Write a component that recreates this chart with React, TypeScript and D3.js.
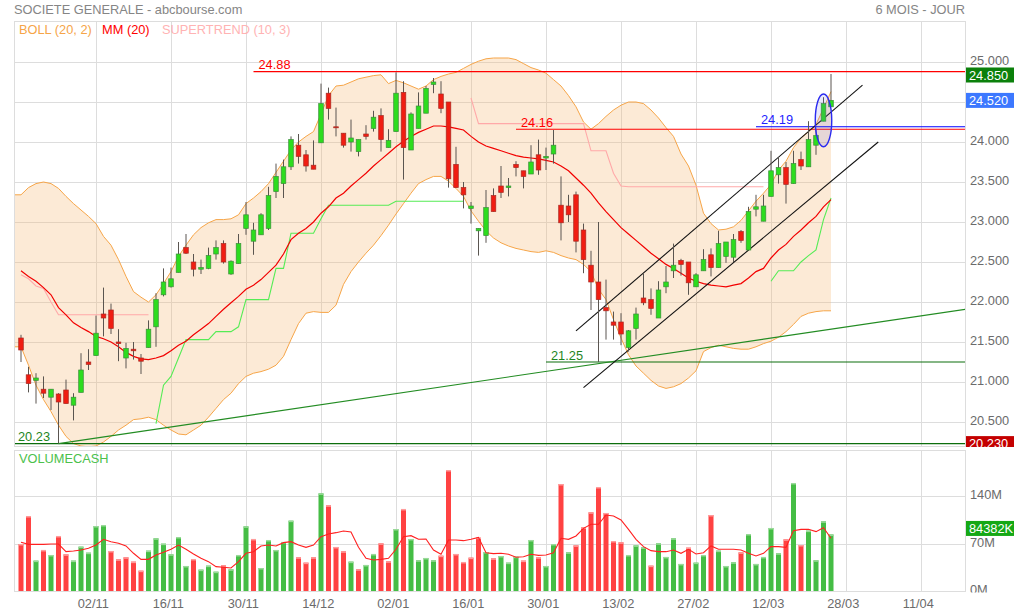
import React, { useEffect, useRef } from 'react';
import * as d3 from 'd3';

// daily candles, oldest first (6 months)
const opens = [
  21.55, 21.09, 21.02, 20.91, 20.81, 20.85, 20.90, 20.71, 20.87, 21.25,
  21.33, 21.85, 21.90, 21.50, 21.30, 21.41, 21.30, 21.43, 21.69, 22.09,
  22.19, 22.37, 22.68, 22.50, 22.41, 22.42, 22.60, 22.73, 22.35, 22.48,
  22.92, 22.76, 22.84, 22.92, 23.38, 23.48, 23.69, 23.96, 23.84, 23.71,
  23.99, 24.61, 24.19, 24.11, 24.00, 23.88, 24.10, 24.17, 24.33, 23.93,
  24.13, 24.62, 23.90, 24.17, 24.36, 24.72, 24.60, 24.50, 23.72, 23.43,
  23.17, 22.89, 22.83, 23.33, 23.45, 23.43, 23.72, 23.64, 23.60, 23.84,
  23.80, 23.85, 23.21, 23.20, 23.34, 22.90, 22.46, 22.25, 21.93, 21.75,
  21.75, 21.43, 21.67, 22.05, 22.03, 21.80, 22.19, 22.39, 22.52, 22.50,
  22.19, 22.39, 22.59, 22.43, 22.57, 22.56, 22.88, 22.65, 23.16, 23.01,
  23.32, 23.59, 23.68, 23.48, 23.78, 23.69, 23.96, 24.26, 24.44,
];
const highs = [
  21.59, 21.19, 21.11, 21.07, 20.91, 20.86, 21.03, 20.86, 21.36, 21.41,
  21.83, 22.18, 21.98, 21.66, 21.49, 21.50, 21.35, 21.77, 22.11, 22.42,
  22.43, 22.75, 22.85, 22.60, 22.53, 22.68, 22.77, 22.77, 22.52, 22.85,
  23.25, 22.99, 23.11, 23.44, 23.73, 23.78, 24.07, 24.10, 23.90, 24.02,
  24.73, 24.68, 24.43, 24.11, 24.28, 24.03, 24.21, 24.39, 24.42, 24.16,
  24.87, 24.76, 24.37, 24.62, 24.70, 24.80, 24.76, 24.50, 23.94, 23.50,
  23.25, 22.92, 23.40, 23.42, 23.70, 23.55, 23.76, 23.64, 23.96, 24.03,
  23.93, 24.15, 23.57, 23.34, 23.38, 22.98, 22.64, 23.00, 22.28, 21.88,
  21.86, 21.65, 21.93, 22.36, 22.17, 22.26, 22.45, 22.73, 22.54, 22.50,
  22.36, 22.66, 22.67, 22.89, 22.75, 22.85, 22.90, 23.19, 23.34, 23.34,
  23.89, 23.81, 23.75, 23.89, 23.88, 24.26, 24.15, 24.56, 24.85,
];
const lows = [
  21.25, 20.87, 20.73, 20.80, 20.65, 20.23, 20.73, 20.52, 20.87, 21.15,
  21.33, 21.57, 21.60, 21.26, 21.17, 21.28, 21.10, 21.43, 21.44, 22.07,
  22.18, 22.37, 22.60, 22.32, 22.35, 22.41, 22.53, 22.48, 22.34, 22.48,
  22.84, 22.59, 22.84, 22.90, 23.30, 23.30, 23.65, 23.73, 23.63, 23.66,
  23.99, 24.28, 24.07, 23.93, 23.88, 23.82, 24.03, 24.13, 23.88, 23.93,
  24.13, 23.53, 23.90, 24.17, 24.36, 24.61, 24.36, 23.43, 23.43, 23.17,
  22.98, 22.58, 22.74, 23.13, 23.30, 23.32, 23.57, 23.42, 23.60, 23.59,
  23.65, 23.73, 22.77, 23.00, 22.62, 22.36, 21.90, 21.25, 21.53, 21.53,
  21.46, 21.38, 21.53, 21.96, 21.84, 21.80, 22.11, 22.30, 22.33, 22.09,
  22.19, 22.39, 22.32, 22.43, 22.49, 22.50, 22.74, 22.65, 23.07, 23.01,
  23.32, 23.48, 23.23, 23.48, 23.65, 23.69, 23.84, 24.26, 24.44,
];
const closes = [
  21.40, 20.98, 21.05, 20.86, 20.91, 20.75, 20.73, 20.81, 21.15, 21.22,
  21.61, 21.80, 21.67, 21.48, 21.42, 21.39, 21.26, 21.66, 22.03, 22.25,
  22.29, 22.60, 22.61, 22.41, 22.43, 22.58, 22.68, 22.50, 22.51, 22.73,
  23.09, 22.90, 23.09, 23.33, 23.57, 23.69, 24.03, 23.82, 23.70, 23.66,
  24.48, 24.42, 24.18, 23.96, 24.05, 24.03, 24.07, 24.31, 24.03, 24.02,
  24.61, 23.93, 24.35, 24.45, 24.67, 24.75, 24.42, 23.54, 23.43, 23.34,
  23.20, 22.92, 23.18, 23.13, 23.37, 23.45, 23.68, 23.57, 23.75, 23.65,
  23.82, 23.96, 22.99, 23.09, 22.76, 22.53, 22.25, 22.03, 21.89, 21.71,
  21.60, 21.64, 21.85, 21.99, 21.92, 22.15, 22.25, 22.46, 22.47, 22.24,
  22.34, 22.53, 22.43, 22.73, 22.75, 22.78, 22.77, 23.13, 23.19, 23.20,
  23.64, 23.68, 23.47, 23.73, 23.70, 24.03, 24.08, 24.48, 24.52,
];
// volume in millions of euros
const volumes = [
  70.3, 111.5, 45.8, 61.5, 54.1, 82.1, 55.1, 45.8, 66.4, 57.5,
  96.8, 98.3, 60.0, 47.7, 50.7, 44.3, 31.0, 60.5, 78.7, 70.8,
  55.1, 80.6, 37.9, 48.2, 32.5, 38.4, 29.5, 38.9, 33.0, 54.1,
  96.3, 77.7, 34.9, 76.2, 61.5, 73.3, 104.7, 50.7, 42.8, 50.7,
  144.9, 127.3, 65.9, 59.5, 44.3, 33.0, 39.4, 55.6, 71.3, 44.8,
  92.4, 121.9, 77.7, 46.3, 49.7, 46.3, 53.1, 179.3, 55.6, 43.8,
  50.2, 79.6, 58.5, 49.2, 52.6, 42.8, 51.6, 45.8, 76.2, 50.7,
  37.9, 70.3, 158.7, 58.0, 68.3, 94.9, 117.0, 154.3, 116.0, 74.7,
  72.8, 54.1, 68.3, 65.4, 38.4, 71.3, 51.2, 78.7, 40.9, 64.9,
  42.8, 54.1, 113.0, 60.5, 37.9, 43.3, 58.0, 85.0, 40.9, 51.2,
  93.9, 56.6, 77.2, 160.2, 68.8, 90.0, 46.3, 103.7, 84.4,
];
const volAvg = [
  72.8, 69.8, 69.8, 69.8, 70.3, 70.3, 59.0, 60.0, 61.5, 63.9,
  68.8, 77.2, 73.7, 71.3, 67.4, 56.6, 47.7, 47.7, 54.1, 58.0,
  62.5, 68.8, 62.5, 55.6, 49.2, 44.3, 36.9, 36.0, 35.0, 44.3,
  56.6, 59.0, 67.4, 68.8, 67.4, 72.3, 73.7, 68.8, 65.4, 68.8,
  81.1, 85.0, 87.0, 89.5, 88.0, 65.4, 49.2, 46.7, 47.7, 49.2,
  62.5, 81.1, 82.6, 77.2, 77.7, 61.5, 55.1, 76.2, 76.2, 75.2,
  77.2, 80.1, 57.5, 56.1, 56.6, 55.1, 50.7, 51.6, 55.1, 53.6,
  54.1, 57.5, 78.7, 77.2, 82.1, 93.4, 99.3, 99.3, 113.0, 111.5,
  105.7, 91.9, 77.2, 66.4, 60.5, 59.0, 59.0, 61.5, 56.6, 62.5,
  55.6, 57.5, 67.4, 62.5, 62.5, 62.5, 61.5, 56.6, 52.6, 56.6,
  66.4, 66.4, 65.4, 90.0, 91.9, 91.9, 88.5, 94.4, 78.7,
];
const bollUp = [
  23.34, 23.43, 23.48, 23.50, 23.48, 23.42, 23.32, 23.23, 23.15, 23.07,
  22.98, 22.82, 22.71, 22.53, 22.32, 22.13, 22.06, 22.00, 22.09, 22.23,
  22.38, 22.57, 22.71, 22.84, 22.93, 22.99, 23.03, 23.03, 23.04, 23.09,
  23.23, 23.30, 23.38, 23.48, 23.62, 23.76, 23.90, 24.00, 24.07, 24.13,
  24.35, 24.58, 24.70, 24.71, 24.75, 24.79, 24.81, 24.83, 24.84, 24.73,
  24.77, 24.74, 24.70, 24.66, 24.70, 24.78, 24.82, 24.85, 24.87, 24.92,
  24.97, 25.01, 25.04, 25.05, 25.05, 25.05, 25.03, 24.98, 24.93, 24.90,
  24.86, 24.78, 24.70, 24.58, 24.44, 24.25, 24.16, 24.23, 24.32, 24.40,
  24.46, 24.50, 24.50, 24.48, 24.40, 24.30, 24.18, 24.07, 23.85, 23.70,
  23.46, 23.11, 22.98, 22.90, 22.91, 22.94, 23.02, 23.14, 23.26, 23.36,
  23.47, 23.65, 23.76, 23.93, 24.05, 24.13, 24.22, 24.42, 24.63,
];
const bollLow = [
  21.44, 21.21, 20.96, 20.78, 20.63, 20.46, 20.32, 20.23, 20.20, 20.19,
  20.20, 20.25, 20.32, 20.40, 20.46, 20.53, 20.54, 20.56, 20.53, 20.46,
  20.40, 20.35, 20.34, 20.40, 20.46, 20.56, 20.67, 20.78, 20.86, 20.98,
  21.07, 21.11, 21.13, 21.16, 21.21, 21.32, 21.53, 21.73, 21.86, 21.88,
  21.87, 21.87, 21.96, 22.22, 22.38, 22.50, 22.61, 22.71, 22.83, 22.96,
  23.10, 23.23, 23.36, 23.48, 23.53, 23.57, 23.57, 23.51, 23.42, 23.32,
  23.14, 23.01, 22.89, 22.80, 22.74, 22.70, 22.67, 22.65, 22.63, 22.62,
  22.64, 22.62, 22.58, 22.55, 22.53, 22.47, 22.38, 22.16, 22.03, 21.78,
  21.55, 21.34, 21.20, 21.11, 21.02, 20.95, 20.92, 20.94, 20.98, 21.05,
  21.14, 21.38, 21.43, 21.46, 21.44, 21.42, 21.41, 21.41, 21.44, 21.48,
  21.51, 21.56, 21.63, 21.72, 21.82, 21.86, 21.88, 21.89, 21.89,
];
const mm20 = [
  22.39, 22.32, 22.26, 22.18, 22.09, 21.93, 21.84, 21.74, 21.68, 21.63,
  21.57, 21.54, 21.50, 21.44, 21.37, 21.32, 21.29, 21.28, 21.30, 21.33,
  21.39, 21.46, 21.51, 21.59, 21.66, 21.73, 21.82, 21.91, 21.99, 22.07,
  22.16, 22.21, 22.28, 22.37, 22.46, 22.60, 22.78, 22.86, 22.92, 23.00,
  23.11, 23.19, 23.30, 23.36, 23.45, 23.53, 23.61, 23.70, 23.78, 23.86,
  23.94, 24.01, 24.07, 24.12, 24.16, 24.20, 24.20, 24.19, 24.17, 24.15,
  24.07, 24.00, 23.95, 23.92, 23.89, 23.86, 23.83, 23.81, 23.80, 23.79,
  23.77, 23.75, 23.70, 23.64, 23.55, 23.46, 23.36, 23.24, 23.13, 23.03,
  22.93, 22.85, 22.77, 22.69, 22.61, 22.54, 22.47, 22.42, 22.36, 22.30,
  22.26, 22.23, 22.21, 22.20, 22.19, 22.21, 22.23, 22.30, 22.38, 22.42,
  22.55, 22.65, 22.72, 22.82, 22.90, 22.99, 23.07, 23.19, 23.28,
];
const superTrend = [
  22.34, 22.29, 22.20, 22.17, 22.00, 21.84, 21.84, 21.84, 21.84, 21.84,
  21.84, 21.84, 21.84, 21.84, 21.84, 21.84, 21.84, 21.84, 20.48, 20.96,
  21.07, 21.30, 21.53, 21.53, 21.53, 21.53, 21.63, 21.63, 21.63, 21.69,
  22.03, 22.03, 22.03, 22.03, 22.42, 22.42, 22.86, 22.86, 22.86, 22.86,
  23.04, 23.21, 23.21, 23.21, 23.21, 23.21, 23.21, 23.21, 23.21, 23.21,
  23.26, 23.26, 23.26, 23.26, 23.26, 23.26, 23.26, 23.26, 23.26, 23.26,
  24.55, 24.23, 24.23, 24.23, 24.23, 24.23, 24.23, 24.23, 24.23, 24.23,
  24.23, 24.23, 24.23, 24.23, 24.23, 24.23, 23.89, 23.89, 23.89, 23.61,
  23.45, 23.44, 23.44, 23.44, 23.44, 23.44, 23.44, 23.44, 23.44, 23.44,
  23.44, 23.44, 23.44, 23.44, 23.44, 23.44, 23.44, 23.44, 23.44, 23.44,
  22.26, 22.39, 22.39, 22.39, 22.50, 22.58, 22.65, 23.03, 23.30,
];

const dateLabels = ['02/11', '16/11', '30/11', '14/12', '02/01', '16/01', '30/01', '13/02', '27/02', '12/03', '28/03', '11/04'];
const priceTicks = [20.5, 21, 21.5, 22, 22.5, 23, 23.5, 24, 24.5, 25];
const volTicks = [0, 70, 140];

// drawn horizontal levels: value, start candle index (null = from the left edge)
const levelValues = [24.88, 24.16, 24.19, 21.25, 20.23];
const levelStarts = [31, 66, 98, 70, null];
const levelKinds = ['red', 'red', 'blue', 'green', 'green'];

// drawn trend lines as [index, price] pairs
const longTrend = [[5, 20.23], [126, 21.91]];
const channelTop = [[74, 21.64], [112.2, 24.71]];
const channelBottom = [[75, 20.93], [114.3, 24.0]];
// highlighted zone: centre index/price and half extents
const zone = { i: 107, p: 24.27, di: 1.1, dp: 0.33 };

const tagHigh = 24.85;
const tagLast = 24.52;
const tagLow = 20.23;
const tagVolK = 84382;

const App: React.FC = () => {
  const svgRef = useRef<SVGSVGElement>(null);

  useEffect(() => {
    if (!svgRef.current) return;
    const svg = d3.select(svgRef.current);
    svg.selectAll('*').remove();

    const width = 1014;
    const height = 614;
    const left = 14, right = 965;
    const mainTop = 21.5, mainBottom = 446.5;
    const volTop = 450.5, volBottom = 591.5;
    const font = '"Liberation Sans", Arial, Helvetica, sans-serif';
    const gridColor = '#dddddd';
    const axisText = '#6b6b6b';

    const x = d3.scaleLinear().domain([-7 / 7.5, 944 / 7.5]).range([left, right]);
    const y = d3.scaleLinear().domain([20, 25]).range([462, 62]);
    const yv = d3.scaleLinear().domain([0, 140]).range([591.7, 496.7]);
    const idx = d3.range(closes.length);
    const gridIdx = dateLabels.map((_, k) => 10 * (k + 1) + 0.1);

    svg.append('rect').attr('width', width).attr('height', height).attr('fill', '#fff');

    const defs = svg.append('defs');
    const addClip = (id: string, x0: number, y0: number, w: number, h: number) =>
      defs.append('clipPath').attr('id', id).append('rect')
        .attr('x', x0).attr('y', y0).attr('width', w).attr('height', h);
    addClip('cMain', left, mainTop, right - left, mainBottom - mainTop);
    addClip('cVol', left, volTop, right - left, volBottom - volTop);
    addClip('cMainAxis', right, mainTop, 60, mainBottom - mainTop + 0.5);
    addClip('cVolAxis', right, volTop, 60, volBottom - volTop + 1);

    // header
    svg.append('text').attr('x', 14).attr('y', 14)
      .attr('font-family', font).attr('font-size', 12.8).attr('fill', '#858585')
      .text('SOCIETE GENERALE - abcbourse.com');
    svg.append('text').attr('x', right).attr('y', 14).attr('text-anchor', 'end')
      .attr('font-family', font).attr('font-size', 12.8).attr('fill', '#858585')
      .text('6 MOIS - JOUR');

    // grids
    [[mainTop, mainBottom], [volTop, volBottom]].forEach(([t, b]) => {
      svg.append('g').selectAll('line').data(gridIdx).join('line')
        .attr('x1', d => x(d)).attr('x2', d => x(d)).attr('y1', t).attr('y2', b)
        .attr('stroke', gridColor).attr('shape-rendering', 'crispEdges');
    });
    svg.append('g').selectAll('line').data(priceTicks).join('line')
      .attr('x1', left).attr('x2', right).attr('y1', d => y(d)).attr('y2', d => y(d))
      .attr('stroke', gridColor).attr('shape-rendering', 'crispEdges');
    svg.append('g').selectAll('line').data(volTicks).join('line')
      .attr('x1', left).attr('x2', right).attr('y1', d => yv(d)).attr('y2', d => yv(d))
      .attr('stroke', gridColor).attr('shape-rendering', 'crispEdges');

    const main = svg.append('g').attr('clip-path', 'url(#cMain)');

    // Bollinger band
    const first = x.invert(left);
    const bandPts = [{ at: first, k: 0 }, ...idx.map(i => ({ at: i, k: i }))];
    const area = d3.area<{ at: number; k: number }>()
      .x(d => x(d.at)).y0(d => y(bollLow[d.k])).y1(d => y(bollUp[d.k]));
    main.append('path').datum(bandPts).attr('d', area).attr('fill', 'rgba(245,185,120,0.3)');
    const outline = [
      ...bandPts.slice().reverse().map(d => [x(d.at), y(bollLow[d.k])]),
      ...bandPts.map(d => [x(d.at), y(bollUp[d.k])]),
    ] as [number, number][];
    main.append('path').attr('d', d3.line()(outline)).attr('fill', 'none')
      .attr('stroke', '#f6a548').attr('stroke-width', 1);

    // supertrend
    const stLine = (bear: boolean) => d3.line<number>()
      .defined(i => (superTrend[i] > closes[i]) === bear)
      .x(i => x(i)).y(i => y(superTrend[i]));
    main.append('path').datum(idx).attr('d', stLine(true)).attr('fill', 'none')
      .attr('stroke', '#ffa9a9').attr('stroke-width', 1.1);
    main.append('path').datum(idx).attr('d', stLine(false)).attr('fill', 'none')
      .attr('stroke', '#55ec55').attr('stroke-width', 1.1);

    // MM 20
    main.append('path').datum(idx)
      .attr('d', d3.line<number>().x(i => x(i)).y(i => y(mm20[i])))
      .attr('fill', 'none').attr('stroke', '#f20000').attr('stroke-width', 1.2);

    // levels
    const levelColor: Record<string, string> = { red: '#ff0000', blue: '#0000ff', green: '#0c6e0c' };
    const levelText: Record<string, string> = { red: '#ff0000', blue: '#1f1fff', green: '#1e851e' };
    levelValues.forEach((v, k) => {
      const start = levelStarts[k] === null ? left : x(levelStarts[k] as number);
      main.append('line').attr('x1', start).attr('x2', right).attr('y1', y(v)).attr('y2', y(v))
        .attr('stroke', levelColor[levelKinds[k]]).attr('stroke-width', 1.1);
      main.append('text').attr('x', start + (levelStarts[k] === null ? 4 : 5)).attr('y', y(v) - 2.5)
        .attr('font-family', font).attr('font-size', 12.8).attr('fill', levelText[levelKinds[k]])
        .text(v.toFixed(2));
    });

    // trend lines
    const seg = (pts: number[][], color: string) =>
      main.append('line')
        .attr('x1', x(pts[0][0])).attr('y1', y(pts[0][1]))
        .attr('x2', x(pts[1][0])).attr('y2', y(pts[1][1]))
        .attr('stroke', color).attr('stroke-width', 1.1);
    seg(longTrend, '#238c23');
    seg(channelTop, '#111');
    seg(channelBottom, '#111');

    // candles
    main.append('g').selectAll('line').data(idx).join('line')
      .attr('x1', i => x(i)).attr('x2', i => x(i))
      .attr('y1', i => y(highs[i])).attr('y2', i => y(lows[i]))
      .attr('stroke', '#5a5550').attr('stroke-width', 1);
    main.append('g').selectAll('rect').data(idx).join('rect')
      .attr('x', i => x(i) - 2.3).attr('width', 4.6)
      .attr('y', i => y(Math.max(opens[i], closes[i])))
      .attr('height', i => Math.max(1, Math.abs(y(opens[i]) - y(closes[i]))))
      .attr('fill', i => closes[i] >= opens[i] ? '#2ddc1e' : '#f01d12')
      .attr('stroke', i => closes[i] >= opens[i] ? '#3a8f3a' : '#a82a22')
      .attr('stroke-width', 0.7);

    // highlighted zone
    main.append('ellipse')
      .attr('cx', x(zone.i)).attr('cy', y(zone.p))
      .attr('rx', x(zone.i + zone.di) - x(zone.i)).attr('ry', y(zone.p - zone.dp) - y(zone.p))
      .attr('fill', 'rgba(90,90,230,0.14)').attr('stroke', '#2b2bf0').attr('stroke-width', 1.4);

    // legend
    const legend = [
      { t: 'BOLL (20, 2)', c: '#f6a548', x: 19 },
      { t: 'MM (20)', c: '#ff0000', x: 102 },
      { t: 'SUPERTREND (10, 3)', c: '#ffb3b3', x: 162 },
    ];
    legend.forEach(l => {
      svg.append('text').attr('x', l.x).attr('y', 33.5).attr('font-family', font)
        .attr('font-size', 12.8).attr('fill', l.c).text(l.t);
    });

    // price axis
    const yAxis = d3.axisRight(y).tickValues(priceTicks).tickFormat(d3.format('.3f')).tickSize(0).tickPadding(5);
    const axMain = svg.append('g').attr('clip-path', 'url(#cMainAxis)');
    const gy = axMain.append('g').attr('transform', `translate(${right},0)`).call(yAxis);
    gy.select('.domain').remove();
    gy.selectAll('text').attr('fill', axisText).attr('font-size', 12.8).attr('font-family', font).attr('dy', '0.2em');

    const tag = (g: any, v: number, sy: (n: number) => number, color: string, text: string, shift = 0) => {
      const cy = sy(v) + shift;
      g.append('rect').attr('x', right + 1).attr('y', cy - 7.5).attr('width', width - right - 1).attr('height', 15)
        .attr('fill', color);
      g.append('text').attr('x', right + 4).attr('y', cy + 4.5).attr('fill', '#fff')
        .attr('font-family', font).attr('font-size', 12.8).text(text);
    };
    tag(axMain, tagHigh, y, '#0b800b', tagHigh.toFixed(3), 1);
    tag(axMain, tagLast, y, '#3c78ff', tagLast.toFixed(3));
    tag(axMain, tagLow, y, '#c40000', tagLow.toFixed(3));

    // volume panel
    const vol = svg.append('g').attr('clip-path', 'url(#cVol)');
    const up = (i: number) => i > 0 && closes[i] >= closes[i - 1];
    vol.append('g').selectAll('rect').data(idx).join('rect')
      .attr('x', i => x(i) - 2.5).attr('width', 5)
      .attr('y', i => yv(volumes[i])).attr('height', i => yv(0) - yv(volumes[i]))
      .attr('fill', i => up(i) ? '#45bd45' : '#ff4242');
    vol.append('g').selectAll('rect').data(idx).join('rect')
      .attr('x', i => x(i) - 2.5).attr('width', 5)
      .attr('y', i => yv(volumes[i])).attr('height', 1.5)
      .attr('fill', i => up(i) ? '#9ad99a' : '#ff9c9c');
    vol.append('path').datum(idx)
      .attr('d', d3.line<number>().x(i => x(i)).y(i => yv(volAvg[i])))
      .attr('fill', 'none').attr('stroke', '#ff2020').attr('stroke-width', 1.1);
    svg.append('text').attr('x', 19).attr('y', 463).attr('font-family', font)
      .attr('font-size', 12.8).attr('fill', '#4cc14c').text('VOLUMECASH');

    const vAxis = d3.axisRight(yv).tickValues(volTicks).tickFormat(d => `${d}M`).tickSize(0).tickPadding(5);
    const axVol = svg.append('g').attr('clip-path', 'url(#cVolAxis)');
    const gv = axVol.append('g').attr('transform', `translate(${right},0)`).call(vAxis);
    gv.select('.domain').remove();
    gv.selectAll('text').attr('fill', axisText).attr('font-size', 12.8).attr('font-family', font).attr('dy', '0.15em');
    tag(axVol, tagVolK / 1000, yv, '#15a815', `${tagVolK}K`, -6);

    // panel frames
    [[mainTop, mainBottom], [volTop, volBottom]].forEach(([t, b]) => {
      svg.append('rect').attr('x', left).attr('y', t).attr('width', right - left).attr('height', b - t)
        .attr('fill', 'none').attr('stroke', gridColor).attr('shape-rendering', 'crispEdges');
    });

    // dates
    const xAxis = d3.axisBottom(x).tickValues(gridIdx).tickFormat((_, k) => dateLabels[k]).tickSize(0).tickPadding(7);
    const gx = svg.append('g').attr('transform', `translate(0,${volBottom})`).call(xAxis);
    gx.select('.domain').remove();
    gx.selectAll('text').attr('fill', axisText).attr('font-size', 12.8).attr('font-family', font).attr('dx', -4);
  }, []);

  return (
    <svg
      ref={svgRef}
      width={1014}
      height={614}
      style={{ position: 'absolute', left: 0, top: 0, display: 'block' }}
    />
  );
};

export default App;
